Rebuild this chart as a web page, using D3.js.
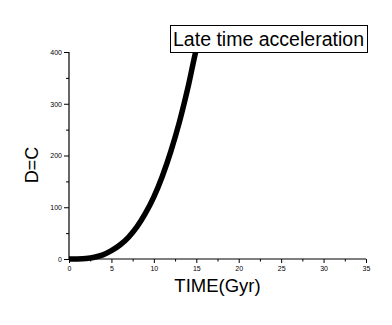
<!DOCTYPE html>
<html>
<head>
<meta charset="utf-8">
<script src="https://cdn.jsdelivr.net/npm/d3@7"></script>
<style>
  body { margin: 0; background: #fff; }
  svg { display: block; }
</style>
</head>
<body>
<script>
// values (time in Gyr, D=C)
var timeGyr = [0, 1, 2, 3, 4, 5, 6, 7, 8, 9, 10, 11, 12, 13, 14, 15, 15.4];
var dValues = [0, 0.2, 1, 3.5, 8, 16, 27, 42, 62, 88, 120, 160, 208, 264, 330, 405, 430];
var xTicks = [0, 5, 10, 15, 20, 25, 30, 35];
var yTicks = [0, 100, 200, 300, 400];
var legendText = "Late time acceleration";

var width = 392, height = 325;
// plot edges (note: "top" is taken by window.top)
var plotLeft = 69, plotRight = 366, plotTop = 52, plotBottom = 259;

var svg = d3.select("body").append("svg")
            .attr("width", width)
            .attr("height", height);

var x = d3.scaleLinear().domain([0, 35]).range([plotLeft, plotRight]);
var y = d3.scaleLinear().domain([0, 400]).range([plotBottom, plotTop]);

function translate(a, b) {
    return "translate(" + a + "," + b + ")";
}

svg.append("clipPath").attr("id", "plot")
   .append("rect")
   .attr("x", plotLeft).attr("y", plotTop - 1)
   .attr("width", plotRight - plotLeft).attr("height", plotBottom - plotTop + 4);

var pts = timeGyr.map(function(t, i) { return [t, dValues[i]]; });

var line = d3.line()
             .x(function(d) { return x(d[0]); })
             .y(function(d) { return y(d[1]); })
             .curve(d3.curveMonotoneX);

svg.append("path")
   .datum(pts)
   .attr("clip-path", "url(#plot)")
   .attr("d", line)
   .attr("fill", "none")
   .attr("stroke", "#000")
   .attr("stroke-width", 5.5)
   .attr("stroke-linecap", "square");

// minor ticks
var xMinor = d3.range(2.5, 35, 5);
var yMinor = d3.range(50, 400, 100);

var xAxis = svg.append("g")
               .attr("transform", translate(0, plotBottom))
               .call(d3.axisBottom(x).tickValues(xTicks).tickSize(4).tickPadding(3));
svg.append("g")
   .attr("transform", translate(0, plotBottom))
   .call(d3.axisBottom(x).tickValues(xMinor).tickSize(2.5).tickFormat(""))
   .select(".domain").remove();

var yAxis = svg.append("g")
               .attr("transform", translate(plotLeft, 0))
               .call(d3.axisLeft(y).tickValues(yTicks).tickSize(5).tickPadding(2));
svg.append("g")
   .attr("transform", translate(plotLeft, 0))
   .call(d3.axisLeft(y).tickValues(yMinor).tickSize(3).tickFormat(""))
   .select(".domain").remove();

svg.selectAll(".domain").attr("stroke", "#000").attr("stroke-width", 1.2);
svg.selectAll(".tick line").attr("stroke", "#000");
svg.selectAll(".tick text")
   .attr("font-family", "Liberation Sans, Arial, sans-serif")
   .attr("font-size", 7)
   .attr("fill", "#000");
// keep axis ends flush (no outer ticks)
xAxis.select(".domain").attr("d", "M" + plotLeft + ",0H" + plotRight);
yAxis.select(".domain").attr("d", "M0," + plotBottom + "V" + plotTop);

// axis titles
svg.append("text")
   .attr("x", (plotLeft + plotRight) / 2)
   .attr("y", 292)
   .attr("text-anchor", "middle")
   .attr("font-family", "Liberation Sans, Arial, sans-serif")
   .attr("font-size", 18.5)
   .text("TIME(Gyr)");

svg.append("text")
   .attr("transform", translate(38, 165) + " rotate(-90)")
   .attr("text-anchor", "middle")
   .attr("font-family", "Liberation Sans, Arial, sans-serif")
   .attr("font-size", 18)
   .text("D=C");

// legend box
var box = svg.append("g").attr("transform", translate(170.5, 25.5));
box.append("rect")
   .attr("width", 197).attr("height", 27)
   .attr("fill", "#fff")
   .attr("stroke", "#000");
box.append("text")
   .attr("x", 2.5).attr("y", 20.5)
   .attr("font-family", "Liberation Sans, Arial, sans-serif")
   .attr("font-size", 20)
   .attr("textLength", 191)
   .attr("lengthAdjust", "spacingAndGlyphs")
   .text(legendText);
</script>
</body>
</html>
